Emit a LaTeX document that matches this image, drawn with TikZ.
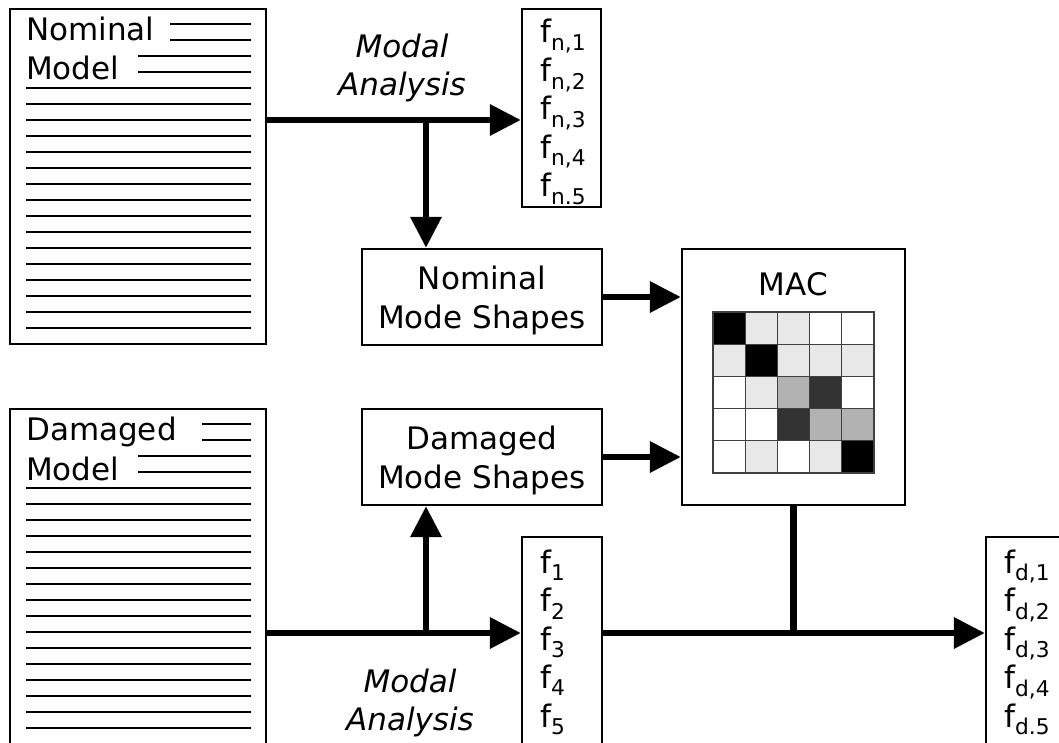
\documentclass[tikz,border=0pt]{standalone}
\usepackage{fontspec}
\setmainfont{DejaVu Sans}
\usetikzlibrary{arrows.meta}
\definecolor{macL}{HTML}{E8E8E8}
\definecolor{macM}{HTML}{B2B2B2}
\definecolor{macD}{HTML}{333333}

\begin{document}
\begin{tikzpicture}[x=1pt, y=-1pt, every node/.style={font=\fontsize{31}{38.5}\selectfont, inner sep=0pt}, box node/.style={rectangle, draw, line width=2.3pt}, name node/.style={anchor=base west}, freq node/.style={anchor=base west}, analysis node/.style={align=center, anchor=north, font=\fontsize{31}{38.5}\selectfont\itshape}, hatch/.style={line width=2pt}, flow/.style={line width=6.5pt, -{Triangle[length=31pt, width=30pt]}}]
\useasboundingbox (0,0) rectangle (1059,743);
\clip (0,0) rectangle (1059,743);
\node[box node, minimum width=256pt, minimum height=335pt](nommodel) at (138,176.5){};
\node[box node, minimum width=256pt, minimum height=340pt](dammodel) at (138,579){};
\foreach \ya/\xa in {24/170, 424/202}
    \foreach \k in {0,...,19}{
        \pgfmathsetmacro\xs{\k<2 ? \xa : (\k<4 ? 138 : 26)}
        \draw[hatch] (\xs,\ya+16*\k) -- (251,\ya+16*\k);}
\node[name node](nomname) at (26,41){Nominal};
\node[name node](nommod) at (26,80){Model};
\node[name node](damname) at (26,440){Damaged};
\node[name node](dammod) at (26,480){Model};
\node[box node, minimum width=79pt, minimum height=198pt](fnbox) at (561.5,108){};
\node[box node, minimum width=80pt, minimum height=240pt](fbox) at (562,657){};
\node[box node, minimum width=90pt, minimum height=240pt](fdbox) at (1031,657){};
\foreach \i/\s in {1/{n,1}, 2/{n,2}, 3/{n,3}, 4/{n,4}, 5/{n.5}}{
    \node[freq node](fn\i) at (540,{43+38.5*(\i-1)}){f\textsubscript{\s}};}
\foreach \i in {1,...,5}{
    \node[freq node](f\i) at (540,{573+38.5*(\i-1)}){f\textsubscript{\i}};}
\foreach \i/\s in {1/{d,1}, 2/{d,2}, 3/{d,3}, 4/{d,4}, 5/{d.5}}{
    \node[freq node](fd\i) at (1004,{573+38.5*(\i-1)}){f\textsubscript{\s}};}
\node[analysis node](nomanalysis) at (402,33.5){Modal\\Analysis};
\node[analysis node](damanalysis) at (410,668.5){Modal\\Analysis};
\node[box node, align=center, text depth=0pt, minimum width=240pt, minimum height=96pt](nomshapes) at (482,297){Nominal\\Mode Shapes};
\node[box node, align=center, text depth=0pt, minimum width=240pt, minimum height=96pt](damshapes) at (482,457){Damaged\\Mode Shapes};
\node[box node, minimum width=223pt, minimum height=256pt](mac) at (793.5,377){};
\node[anchor=base](maclabel) at (793.5,295){MAC};
\foreach \row [count=\r from 0] in {{black,macL,macL,white,white}, {macL,black,macL,macL,macL}, {white,macL,macM,macD,white}, {white,white,macD,macM,macM}, {white,macL,white,macL,black}}
    \foreach \col [count=\c from 0] in \row
        \filldraw[fill=\col, draw=black!75, line width=1.3pt] ({713+32.2*\c},{312+32.2*\r}) rectangle ++(32.2,32.2);
\coordinate (ntop) at (426,120);
\coordinate (dtop) at (426,633);
\draw[flow] (nommodel.east |- ntop) -- (fnbox.west |- ntop);
\draw[flow] (ntop) -- (ntop |- nomshapes.north);
\draw[flow] (nomshapes.east) -- (mac.west |- nomshapes.east);
\draw[flow] (damshapes.east) -- (mac.west |- damshapes.east);
\draw[flow] (dammodel.east |- dtop) -- (fbox.west |- dtop);
\draw[flow] (dtop) -- (dtop |- damshapes.south);
\draw[line width=6.5pt] (mac.south) -- (mac.south |- dtop);
\draw[flow] (fbox.east |- dtop) -- (fdbox.west |- dtop);
\end{tikzpicture}
\end{document}
